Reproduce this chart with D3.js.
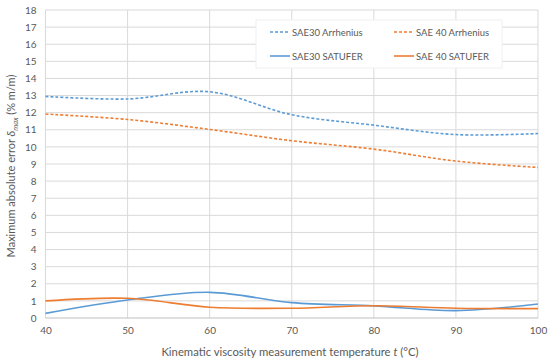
<!DOCTYPE html>
<html><head><meta charset="utf-8">
<script src="https://cdn.jsdelivr.net/npm/d3@7"></script>
<style>body{margin:0;background:#fff}svg{display:block}text{font-family:Lato,"Open Sans",sans-serif;fill:#595959}</style>
</head><body><svg id="c" width="550" height="361"></svg>
<script>
const temps = [40, 50, 60, 70, 80, 90, 100];
const sae30Arrhenius = [12.95, 12.8, 13.22, 11.88, 11.27, 10.72, 10.78];
const sae40Arrhenius = [11.92, 11.6, 11.02, 10.36, 9.87, 9.17, 8.8];
const sae30Satufer = [0.27, 1.05, 1.5, 0.9, 0.71, 0.43, 0.82];
const sae40Satufer = [1.0, 1.15, 0.63, 0.57, 0.72, 0.57, 0.55];
const yTicks = d3.range(0, 19);
const xTicks = [40, 50, 60, 70, 80, 90, 100];
const seriesNames = ["SAE30 Arrhenius", "SAE 40 Arrhenius", "SAE30 SATUFER", "SAE 40 SATUFER"];

const svg = d3.select("#c");
const x = d3.scaleLinear().domain([40, 100]).range([45.5, 538]);
const y = d3.scaleLinear().domain([0, 18]).range([318, 10]);

// grid
svg.append("g").selectAll("line").data(yTicks.filter(d => d > 0)).join("line")
  .attr("x1", x(40)).attr("x2", x(100)).attr("y1", d => y(d)).attr("y2", d => y(d))
  .attr("stroke", "#d9d9d9").attr("stroke-width", 1);
svg.append("g").selectAll("line").data(xTicks).join("line")
  .attr("x1", d => x(d)).attr("x2", d => x(d)).attr("y1", y(0)).attr("y2", y(18))
  .attr("stroke", "#d9d9d9").attr("stroke-width", 1);
svg.append("line").attr("x1", x(40)).attr("x2", x(100)).attr("y1", y(0)).attr("y2", y(0))
  .attr("stroke", "#bfbfbf");

// axes labels
const yAxis = d3.axisLeft(y).tickValues(yTicks).tickSize(0).tickPadding(9);
svg.append("g").attr("transform", `translate(${x(40)},0)`).call(yAxis)
  .call(g => g.select(".domain").remove())
  .selectAll("text").attr("font-size", 10).style("font-family", "Lato,'Open Sans',sans-serif").attr("fill", "#595959");
const xAxis = d3.axisBottom(x).tickValues(xTicks).tickSize(0).tickPadding(9);
svg.append("g").attr("transform", `translate(0,${y(0)})`).call(xAxis)
  .call(g => g.select(".domain").remove())
  .selectAll("text").attr("font-size", 10).style("font-family", "Lato,'Open Sans',sans-serif").attr("fill", "#595959");

// titles
const xt = svg.append("text").attr("x", 290).attr("y", 356).attr("text-anchor", "middle").attr("font-size", 11.3);
xt.append("tspan").text("Kinematic viscosity measurement temperature ");
xt.append("tspan").attr("font-style", "italic").text("t");
xt.append("tspan").text(" (°C)");

const yt = svg.append("text").attr("transform", "translate(15,166) rotate(-90)").attr("text-anchor", "middle").attr("font-size", 11);
yt.append("tspan").text("Maximum absolute error ");
yt.append("tspan").attr("font-style", "italic").text("δ");
yt.append("tspan").attr("font-style", "italic").attr("font-size", 7.5).attr("dy", 3).text("max");
yt.append("tspan").attr("dy", -3).text(" (% m/m)");

// lines
const blue = "#5B9BD5", orange = "#ED7D31";
const series = [
  {vals: sae30Arrhenius, color: blue, dash: "3,2"},
  {vals: sae40Arrhenius, color: orange, dash: "3,2"},
  {vals: sae30Satufer, color: blue, dash: null},
  {vals: sae40Satufer, color: orange, dash: null}
];
const line = d3.line().x((d, i) => x(temps[i])).y(d => y(d)).curve(d3.curveCatmullRom.alpha(0.5));
series.forEach(s => {
  svg.append("path").attr("d", line(s.vals)).attr("fill", "none")
    .attr("stroke", s.color).attr("stroke-width", 1.6)
    .attr("stroke-dasharray", s.dash);
});

// legend
svg.append("rect").attr("x", 256).attr("y", 20).attr("width", 246).attr("height", 48)
  .attr("fill", "#fff").attr("stroke", "#f0f0f0");
const lpos = [[270, 32], [394, 32], [270, 56], [394, 56]];
series.forEach((s, i) => {
  const [lx, ly] = lpos[i];
  svg.append("line").attr("x1", lx).attr("x2", lx + 20).attr("y1", ly).attr("y2", ly)
    .attr("stroke", s.color).attr("stroke-width", 1.6).attr("stroke-dasharray", s.dash);
  svg.append("text").attr("x", lx + 22).attr("y", ly + 3.5).attr("font-size", 9.5).text(seriesNames[i]);
});
</script></body></html>
